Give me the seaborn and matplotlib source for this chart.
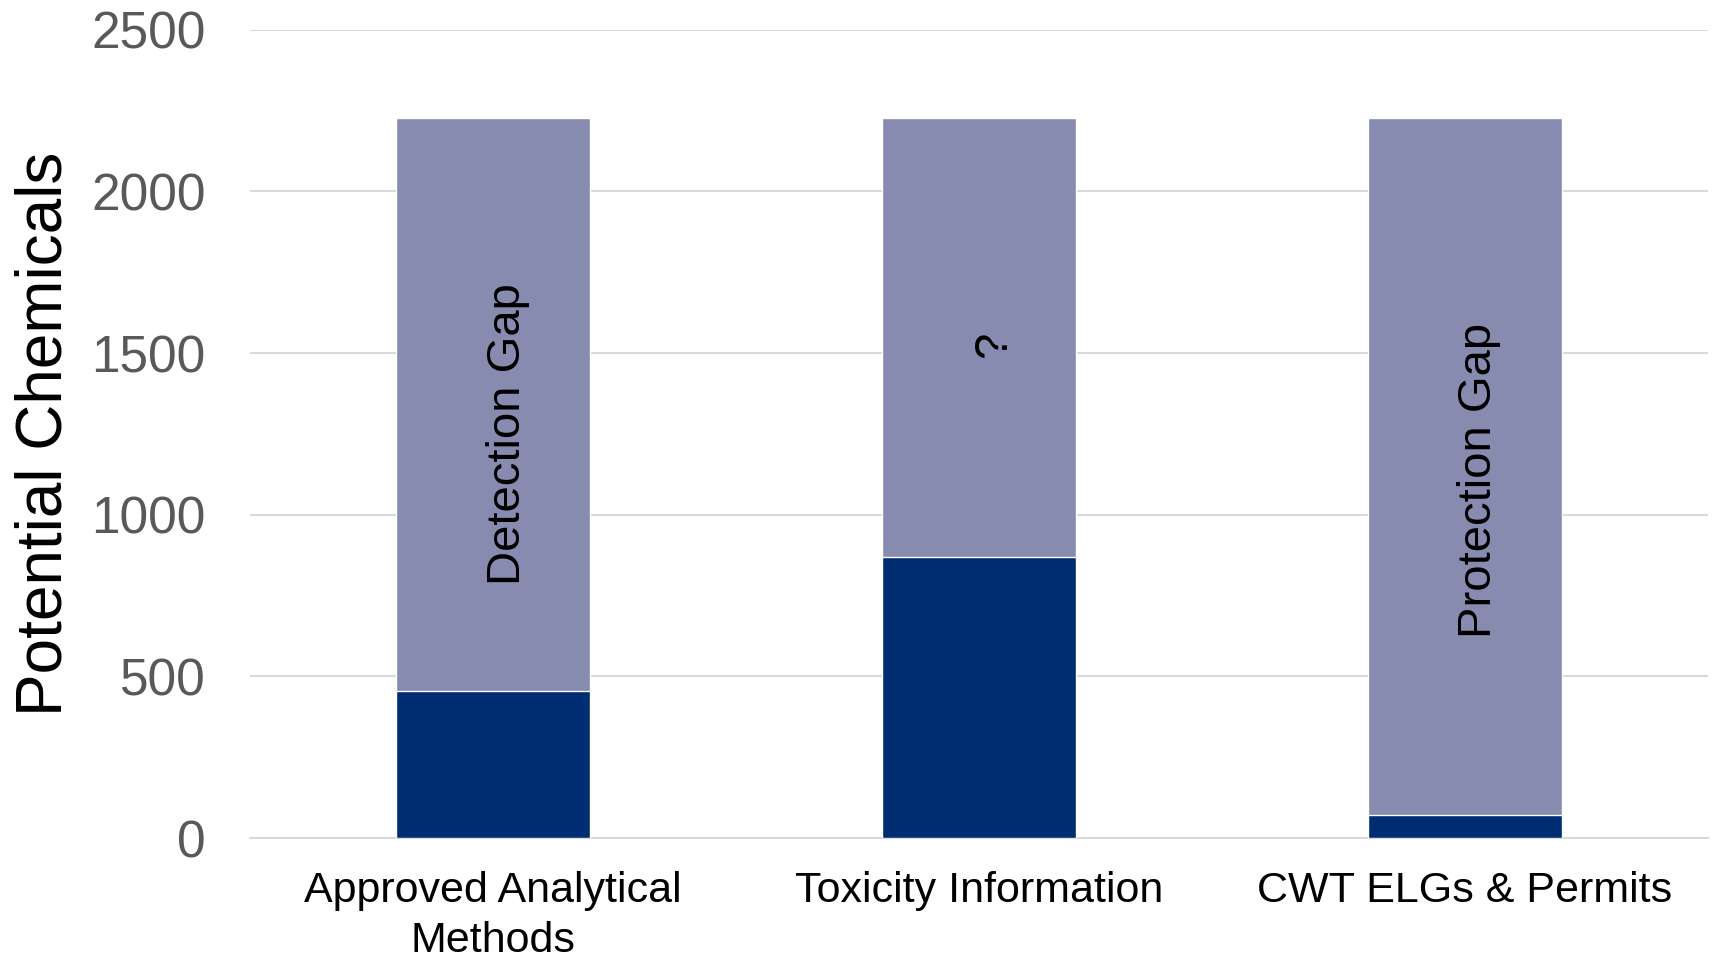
import seaborn as sns
import pandas as pd
import matplotlib.pyplot as plt

sns.set_theme(style="white")
plt.rcParams['font.family'] = ['Liberation Sans', 'DejaVu Sans']

# data
categories = ["Approved Analytical\nMethods", "Toxicity Information", "CWT ELGs & Permits"]
total_chemicals = [2226, 2226, 2226]
covered = [455, 868, 73]
gap_labels = ["Detection Gap", "?", "Protection Gap"]
gap_label_y = [1250, 1525, 1105]

df = pd.DataFrame({'Category': categories,
                   'Total': total_chemicals,
                   'Covered': covered})

fig = plt.figure(figsize=(17.13, 9.59), dpi=100)
ax = fig.add_axes([0.146, 0.126, 0.851, 0.843])

# background (gap) bar, then covered part on top
sns.barplot(data=df, x='Category', y='Total', color='#868BAF',
            saturation=1, width=0.4, ax=ax, zorder=2)
sns.barplot(data=df, x='Category', y='Covered', color='#002D72',
            saturation=1, width=0.4, ax=ax, zorder=3)

for i, (lab, yy) in enumerate(zip(gap_labels, gap_label_y)):
    ax.text(i + 0.03, yy, lab, rotation=90, ha='center', va='center',
            fontsize=34, color='black', zorder=4)

ax.set_ylim(0, 2500)
ax.set_xlim(-0.5, 2.5)
ax.set_yticks([0, 500, 1000, 1500, 2000, 2500])
ax.yaxis.grid(True, color='#D9D9D9', linewidth=1.5, zorder=0)
ax.set_axisbelow(True)
for s in ['top', 'right', 'left']:
    ax.spines[s].set_visible(False)
ax.spines['bottom'].set_color('#D9D9D9')
ax.spines['bottom'].set_linewidth(1.5)
ax.tick_params(axis='both', length=0)
ax.tick_params(axis='y', labelsize=37, labelcolor='#595959', pad=32)
ax.tick_params(axis='x', labelsize=31, labelcolor='black', pad=24)
ax.set_xlabel(None)
ax.set_ylabel('Potential Chemicals', fontsize=46, color='black', labelpad=12)
for t in ax.get_xticklabels():
    t.set_linespacing(1.3)

fig.savefig('out.png', dpi=100)
